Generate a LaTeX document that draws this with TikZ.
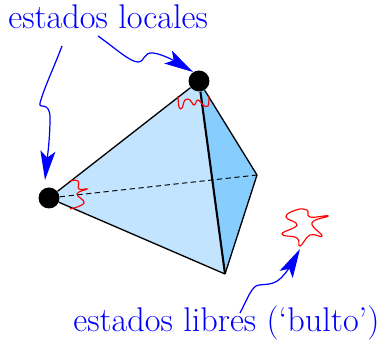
\documentclass[tikz,border=0pt]{standalone}
\usepackage{amsmath}
\usetikzlibrary{arrows.meta}

\definecolor{caraclara}{HTML}{C2E4FF}
\definecolor{caraoscura}{HTML}{87CEFF}

\tikzset{
	vertice/.style={circle, fill=black, inner sep=0pt, minimum size=0.42cm},
	etiqueta/.style={text=blue, inner sep=0pt, anchor=base west, font=\fontsize{19.5}{23}\selectfont},
	flecha/.style={blue, line width=0.7pt, -{Stealth[length=0.58cm, width=0.3cm, inset=0.13cm]}},
	borde/.style={red, line width=0.65pt},
}

\begin{document}
\begin{tikzpicture}[x=0.02cm, y=-0.02cm]
		\useasboundingbox (0, 0) rectangle (379, 340);

		\coordinate (A) at (199, 81);
		\coordinate (B) at (49, 198);
		\coordinate (C) at (225, 274);
		\coordinate (D) at (257, 175);

		\fill[caraclara] (A) -- (B) -- (C) -- cycle;
		\fill[caraoscura] (A) -- (C) -- (D) -- cycle;

		\node[vertice] (VA) at (A) {};
		\node[vertice] (VB) at (B) {};

		\draw[line width=0.75pt] (VA) -- (VB);
		\draw[line width=0.75pt] (VB) -- (C);
		\draw[line width=1.2pt] (VA) -- (C);
		\draw[line width=0.75pt] (C) -- (D);
		\draw[line width=0.75pt] (D) -- (VA);
		\draw[line width=0.55pt, densely dashed] (VB) -- (D);

		\draw[borde] plot[smooth, tension=0.7] coordinates {(178, 96) (179, 107) (182, 108) (185, 100) (190, 100) (194, 105) (198, 100) (203, 105) (208, 106) (209, 96)};
		\draw[borde] plot[smooth, tension=0.8] coordinates {(70, 181) (78, 181) (79, 189) (87, 189) (77, 194) (84, 203) (70, 209)};
		\draw[borde] plot[smooth cycle, tension=0.8] coordinates {(286, 217) (296, 210) (307, 210) (310, 217) (328, 216) (312, 223) (322, 236) (310, 235) (300, 246) (297, 238) (282, 234) (297, 225)};

		\node[etiqueta] (locales) at (8, 29) {estados locales};
		\node[etiqueta] (libres) at (73, 332) {estados libres (`bulto')};

		\coordinate (L1) at (98, 36);
		\coordinate (L2) at (62, 46);
		\coordinate (L3) at (240, 313);
		\coordinate (P1) at (193, 72);
		\coordinate (P2) at (45, 180);
		\coordinate (P3) at (300, 249);

		\draw[flecha] (L1) .. controls (115, 48) and (130, 62) .. (138, 62) .. controls (145, 62) and (143, 52) .. (153, 53) .. controls (163, 54) and (178, 63) .. (P1);
		\draw[flecha] (L2) .. controls (55, 65) and (44, 88) .. (40, 103) .. controls (38, 110) and (50, 100) .. (50, 118) .. controls (50, 140) and (47, 160) .. (P2);
		\draw[flecha] (L3) .. controls (246, 302) and (250, 290) .. (256, 286) .. controls (262, 283) and (272, 287) .. (281, 278) .. controls (288, 271) and (294, 260) .. (P3);
	\end{tikzpicture}
\end{document}
